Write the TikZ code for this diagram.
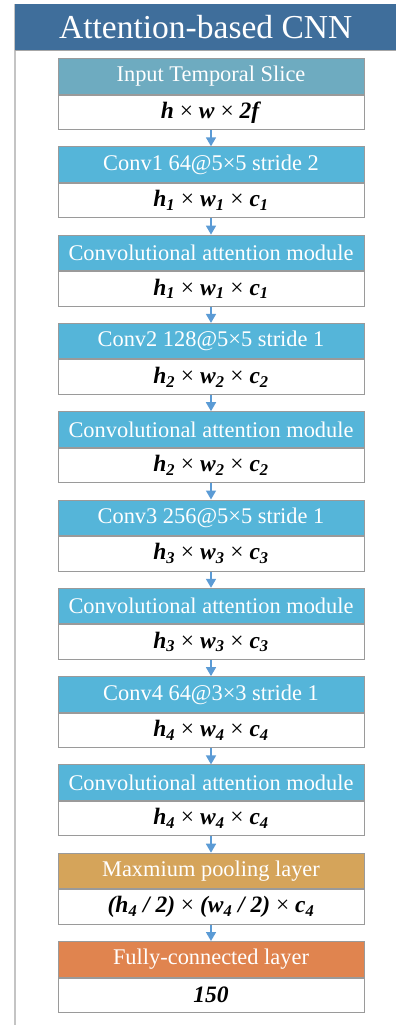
\documentclass[tikz,border=0pt]{standalone}
\usepackage{fontspec}
\setmainfont{Liberation Serif}
\usetikzlibrary{arrows.meta}
\definecolor{titlebar}{HTML}{3F6E9B}
\definecolor{inputcol}{HTML}{6EABC0}
\definecolor{convcol}{HTML}{55B5D9}
\definecolor{poolcol}{HTML}{D5A45A}
\definecolor{fccol}{HTML}{E0844F}
\definecolor{arrowcol}{HTML}{5B9BD5}
\definecolor{framecol}{HTML}{C4C4C4}
\definecolor{boxline}{HTML}{9A9A9A}
\newcommand{\bi}[1]{\textbf{\textit{#1}}}
\newcommand{\tms}{ \textnormal{×} }
\newcommand{\sub}[1]{\textsubscript{#1}}
\begin{document}
\begin{tikzpicture}[x=1pt,y=-1pt,
  hdr/.style={draw=boxline, line width=1pt, minimum width=306pt, minimum height=35.5pt,
    inner sep=0pt, anchor=north, text=white, font=\fontsize{22.4}{22.4}\selectfont},
  val/.style={draw=boxline, line width=1pt, fill=white, minimum width=306pt, minimum height=34.5pt,
    inner sep=0pt, anchor=north, font=\fontsize{23.5}{23.5}\selectfont},
  flow/.style={draw=arrowcol, line width=1.6pt, -{Triangle[length=9pt,width=10pt]}}]
\useasboundingbox (0,0) rectangle (396,1025);
% frame
\draw[framecol, line width=2pt] (15,4) -- (15,1025);
\draw[framecol!60, line width=0.8pt] (15,4) -- (396,4);
\fill[gray!70] (15,50) rectangle (396,51.5);
\node[fill=titlebar, minimum width=381pt, minimum height=46pt, inner sep=0pt, anchor=north west,
  text=white, font=\fontsize{33.5}{33.5}\selectfont] (title) at (15,4) {Attention-based CNN};
% blocks
\def\cx{211}
\node[hdr, fill=inputcol] (h0) at (\cx,58) {Input Temporal Slice};
\node[val] (v0) at (h0.south) {\bi{h}\tms\bi{w}\tms\bi{2f}};
\node[hdr, fill=convcol] (h1) at (\cx,146.3) {Conv1 64@5×5 stride 2};
\node[val] (v1) at (h1.south) {\bi{h\sub{1}}\tms\bi{w\sub{1}}\tms\bi{c\sub{1}}};
\node[hdr, fill=convcol] (h2) at (\cx,234.6) {Convolutional attention module};
\node[val] (v2) at (h2.south) {\bi{h\sub{1}}\tms\bi{w\sub{1}}\tms\bi{c\sub{1}}};
\node[hdr, fill=convcol] (h3) at (\cx,322.9) {Conv2 128@5×5 stride 1};
\node[val] (v3) at (h3.south) {\bi{h\sub{2}}\tms\bi{w\sub{2}}\tms\bi{c\sub{2}}};
\node[hdr, fill=convcol] (h4) at (\cx,411.2) {Convolutional attention module};
\node[val] (v4) at (h4.south) {\bi{h\sub{2}}\tms\bi{w\sub{2}}\tms\bi{c\sub{2}}};
\node[hdr, fill=convcol] (h5) at (\cx,499.5) {Conv3 256@5×5 stride 1};
\node[val] (v5) at (h5.south) {\bi{h\sub{3}}\tms\bi{w\sub{3}}\tms\bi{c\sub{3}}};
\node[hdr, fill=convcol] (h6) at (\cx,587.8) {Convolutional attention module};
\node[val] (v6) at (h6.south) {\bi{h\sub{3}}\tms\bi{w\sub{3}}\tms\bi{c\sub{3}}};
\node[hdr, fill=convcol] (h7) at (\cx,676.1) {Conv4 64@3×3 stride 1};
\node[val] (v7) at (h7.south) {\bi{h\sub{4}}\tms\bi{w\sub{4}}\tms\bi{c\sub{4}}};
\node[hdr, fill=convcol] (h8) at (\cx,764.4) {Convolutional attention module};
\node[val] (v8) at (h8.south) {\bi{h\sub{4}}\tms\bi{w\sub{4}}\tms\bi{c\sub{4}}};
\node[hdr, fill=poolcol] (h9) at (\cx,852.7) {Maxmium pooling layer};
\node[val] (v9) at (h9.south) {\bi{(h\sub{4} / 2)}\tms\bi{(w\sub{4} / 2)}\tms\bi{c\sub{4}}};
\node[hdr, fill=fccol] (h10) at (\cx,941) {Fully-connected layer};
\node[val] (v10) at (h10.south) {\bi{150}};
% arrows
\foreach \a/\b in {v0/h1,v1/h2,v2/h3,v3/h4,v4/h5,v5/h6,v6/h7,v7/h8,v8/h9,v9/h10}
  \draw[flow] (\a.south) -- (\b.north);
\end{tikzpicture}
\end{document}
